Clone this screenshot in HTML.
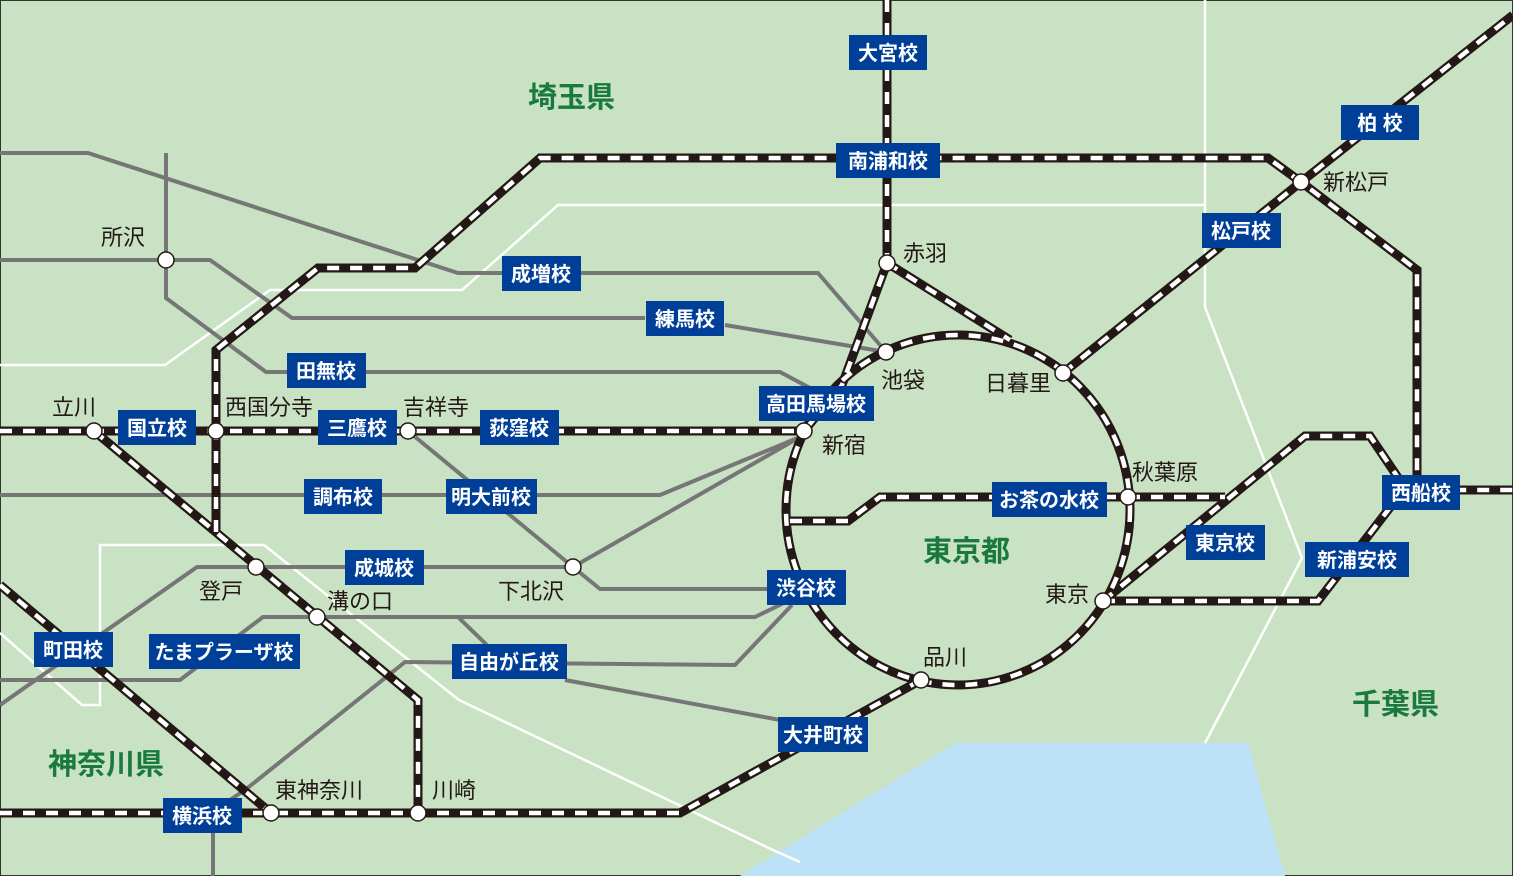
<!DOCTYPE html>
<html><head><meta charset="utf-8"><style>
html,body{margin:0;padding:0;background:#c9e2c3;}
svg{display:block}
.st{font-family:"Liberation Sans","Noto Sans CJK JP",sans-serif;font-size:22px;fill:#231815;}
.pf{font-family:"Liberation Sans","Noto Sans CJK JP",sans-serif;font-size:29px;font-weight:bold;fill:#1a7a3e;}
.lb{font-family:"Liberation Sans","Noto Sans CJK JP",sans-serif;font-size:20px;font-weight:bold;fill:#fff;}
</style></head><body>
<svg width="1513" height="876" viewBox="0 0 1513 876" xmlns="http://www.w3.org/2000/svg">
<rect x="0.5" y="0.5" width="1512" height="875" fill="#c9e2c3" stroke="#333" stroke-width="1"/>
<polygon points="740,876 955,743 1248,743 1285,876" fill="#bde1f6"/>
<g fill="none" stroke="#fff" stroke-width="2.5">
<polyline points="0,365 165,365 270,290 462,290 558,205 1205,205"/>
<polyline points="1205,0 1205,307 1302,558 1205,743"/>
<polyline points="0,633 82,705 100,705 100,545 264,545 459,700 773,850 800,862"/>
</g>
<g fill="none" stroke="#767676" stroke-width="4" stroke-linejoin="round">
<polyline points="0,153 88,153 458,273 818,273 886,352"/>
<polyline points="0,260 210,260 292,318 645,318"/>
<polyline points="725,325 886,352"/>
<polyline points="166,153 166,298 266,372 780,372 810,388"/>
<polyline points="0,495 660,495 800,437"/>
<polyline points="573,567 800,437"/>
<polyline points="408,431 573,567 600,589 767,589"/>
<polyline points="573,567 197,567 0,705"/>
<polyline points="790,600 755,617 263,617 180,680 0,680"/>
<polyline points="792,605 735,665 405,662 245,790 210,813"/>
<polyline points="458,617 490,648"/>
<polyline points="565,680 780,720"/>
<polyline points="213,813 213,876"/>
</g>
<g fill="none" stroke-linejoin="miter">
<g stroke="#231815" stroke-width="9">
<polyline points="0,431 804,431"/>
<polyline points="216,532 216,350 318,268 415,268 540,158 1268,158 1301,182 1417,270 1417,490 1513,490"/>
<polyline points="94,431 418,700 418,813"/>
<polyline points="887,0 887,263 842,385 804,431"/>
<polyline points="887,263 1010,340"/>
<polyline points="1063,373 1301,182 1513,15"/>
<polyline points="1103,601 1318,601 1405,488"/>
<polyline points="1103,601 1305,436 1370,436 1405,488"/>
<polyline points="1128,497 1225,497"/>
<polyline points="790,521 848,521 880,497 1128,497"/>
<polyline points="0,813 680,813 921,680"/>
<polyline points="0,585 271,813"/>
<ellipse cx="958" cy="510" rx="172" ry="175"/>
</g>
<g stroke="#fff" stroke-width="4.5" stroke-dasharray="12 11">
<polyline points="0,431 804,431"/>
<polyline points="216,532 216,350 318,268 415,268 540,158 1268,158 1301,182 1417,270 1417,490 1513,490"/>
<polyline points="94,431 418,700 418,813"/>
<polyline points="887,0 887,263 842,385 804,431"/>
<polyline points="887,263 1010,340"/>
<polyline points="1063,373 1301,182 1513,15"/>
<polyline points="1103,601 1318,601 1405,488"/>
<polyline points="1103,601 1305,436 1370,436 1405,488"/>
<polyline points="1128,497 1225,497"/>
<polyline points="790,521 848,521 880,497 1128,497"/>
<polyline points="0,813 680,813 921,680"/>
<polyline points="0,585 271,813"/>
<ellipse cx="958" cy="510" rx="172" ry="175"/>
</g>
</g>
<g fill="#fff" stroke="#231815" stroke-width="1.5">
<circle cx="166" cy="260" r="8"/><circle cx="94" cy="431" r="8"/><circle cx="216" cy="431" r="8"/>
<circle cx="408" cy="431" r="8"/><circle cx="804" cy="431" r="8"/><circle cx="887" cy="263" r="8"/>
<circle cx="886" cy="352" r="8"/><circle cx="1063" cy="373" r="8"/><circle cx="1128" cy="497" r="8"/>
<circle cx="1103" cy="601" r="8"/><circle cx="921" cy="680" r="8"/><circle cx="1301" cy="182" r="8"/>
<circle cx="573" cy="567" r="8"/><circle cx="256" cy="567" r="8"/><circle cx="317" cy="617" r="8"/>
<circle cx="271" cy="813" r="8"/><circle cx="418" cy="813" r="8"/>
</g>
<g class="st">
<text x="101" y="245">所沢</text><text x="52" y="415">立川</text><text x="225" y="415">西国分寺</text>
<text x="403" y="415">吉祥寺</text><text x="903" y="261">赤羽</text><text x="881" y="388">池袋</text>
<text x="985" y="391">日暮里</text><text x="822" y="453">新宿</text><text x="1132" y="480">秋葉原</text>
<text x="1045" y="602">東京</text><text x="923" y="665">品川</text><text x="1323" y="190">新松戸</text>
<text x="199" y="599">登戸</text><text x="327" y="609">溝の口</text><text x="498" y="599">下北沢</text>
<text x="275" y="798">東神奈川</text><text x="432" y="798">川崎</text>
</g>
<g class="pf">
<text x="528" y="107">埼玉県</text><text x="923" y="561">東京都</text>
<text x="1352" y="714">千葉県</text><text x="48" y="774">神奈川県</text>
</g>
<g fill="#003f98">
<rect x="849" y="35" width="78" height="35"/><rect x="836" y="143" width="104" height="35"/>
<rect x="1341" y="105" width="78" height="35"/><rect x="1202" y="213" width="79" height="35"/>
<rect x="502" y="256" width="79" height="35"/><rect x="646" y="301" width="78" height="35"/>
<rect x="287" y="353" width="79" height="35"/><rect x="759" y="386" width="115" height="35"/>
<rect x="118" y="410" width="78" height="35"/><rect x="318" y="410" width="79" height="35"/>
<rect x="480" y="410" width="79" height="35"/><rect x="304" y="479" width="78" height="35"/>
<rect x="446" y="479" width="91" height="35"/><rect x="992" y="482" width="115" height="35"/>
<rect x="1382" y="475" width="78" height="35"/><rect x="1186" y="525" width="79" height="35"/>
<rect x="1305" y="542" width="104" height="35"/><rect x="345" y="550" width="79" height="35"/>
<rect x="767" y="570" width="79" height="35"/><rect x="34" y="632" width="79" height="35"/>
<rect x="149" y="634" width="151" height="35"/><rect x="452" y="644" width="115" height="35"/>
<rect x="778" y="717" width="90" height="35"/><rect x="163" y="798" width="79" height="35"/>
</g>
<g class="lb" text-anchor="middle">
<text x="888" y="60">大宮校</text><text x="888" y="168">南浦和校</text>
<text x="1380" y="130">柏 校</text><text x="1241" y="238">松戸校</text>
<text x="541" y="281">成増校</text><text x="685" y="326">練馬校</text>
<text x="326" y="378">田無校</text><text x="816" y="411">高田馬場校</text>
<text x="157" y="435">国立校</text><text x="357" y="435">三鷹校</text>
<text x="519" y="435">荻窪校</text><text x="343" y="504">調布校</text>
<text x="491" y="504">明大前校</text><text x="1049" y="507">お茶の水校</text>
<text x="1421" y="500">西船校</text><text x="1225" y="550">東京校</text>
<text x="1357" y="567">新浦安校</text><text x="384" y="575">成城校</text>
<text x="806" y="595">渋谷校</text><text x="73" y="657">町田校</text>
<text x="224" y="659">たまプラーザ校</text><text x="509" y="669">自由が丘校</text>
<text x="823" y="742">大井町校</text><text x="202" y="823">横浜校</text>
</g>
</svg>
</body></html>
